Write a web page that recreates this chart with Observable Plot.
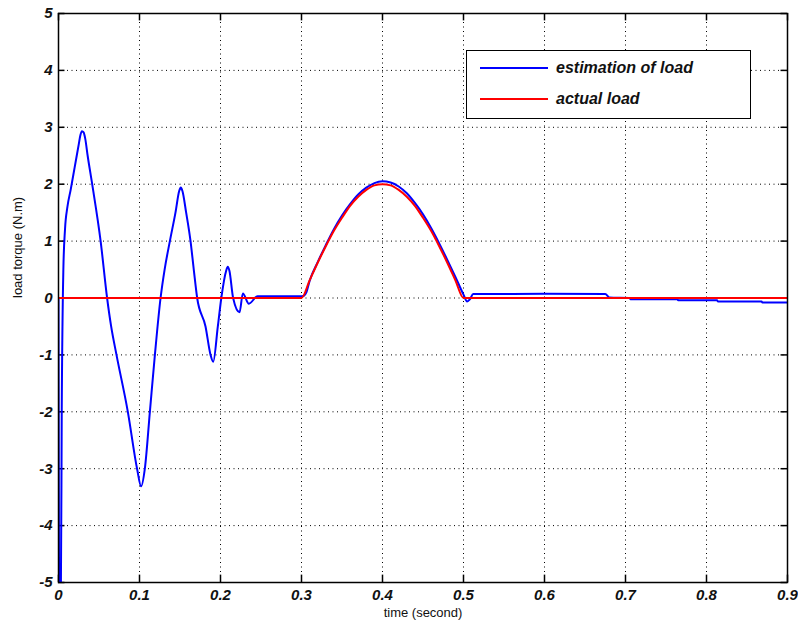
<!DOCTYPE html>
<html>
<head>
<meta charset="utf-8">
<script src="https://cdn.jsdelivr.net/npm/d3@7"></script>
<script src="https://cdn.jsdelivr.net/npm/@observablehq/plot@0.6"></script>
<style>
  html, body { margin: 0; padding: 0; background: #fff; }
  #wrap { position: relative; width: 798px; height: 628px; }
  #legend { position: absolute; left: 466px; top: 50px; width: 283px; height: 67px;
    border: 1.5px solid #000; background: #fff; font-family: "Liberation Sans", Arial, sans-serif;
    font-weight: bold; font-style: italic; font-size: 16px; color: #111; }
  .row { position: absolute; left: 12px; display: flex; align-items: center; }
  .row svg { margin-right: 7px; }
</style>
</head>
<body>
<div id="wrap"></div>
<script>
// ---- data ----
const blueT = [0, 0.0008, 0.003, 0.004, 0.006, 0.008, 0.011, 0.015, 0.02, 0.025, 0.027, 0.029, 0.031, 0.033, 0.036, 0.0416, 0.052, 0.060, 0.065, 0.0716, 0.0856, 0.097, 0.102,
  0.1066, 0.1128, 0.119, 0.126, 0.131, 0.1375, 0.1444, 0.149, 0.151, 0.153, 0.1576, 0.163, 0.167, 0.1712, 0.1815, 0.1877, 0.191,
  0.1967, 0.201, 0.207, 0.209, 0.211, 0.2156, 0.2235, 0.2276, 0.235, 0.2457, 0.26, 0.299,
  0.303, 0.306, 0.31, 0.32, 0.33, 0.34, 0.35, 0.36, 0.37, 0.38, 0.39, 0.40, 0.41, 0.42, 0.43, 0.44, 0.45, 0.46, 0.47, 0.48, 0.49, 0.50,
  0.5045, 0.508, 0.512, 0.52, 0.60, 0.675, 0.68, 0.705, 0.706, 0.764, 0.765, 0.813, 0.814, 0.868, 0.869, 0.9];
const blueV = [0, -5, -5, -2, 0.5, 1.2, 1.6, 1.9, 2.3, 2.7, 2.86, 2.93, 2.91, 2.8, 2.5, 2.0, 1.0, 0, -0.5, -1.0, -2.0, -3.0, -3.31,
  -3.0, -2.0, -1.0, 0, 0.5, 1.0, 1.5, 1.88, 1.94, 1.88, 1.5, 1.0, 0.5, 0, -0.5, -1.0, -1.12,
  -0.5, 0, 0.48, 0.55, 0.48, 0, -0.25, 0.08, -0.1, 0.03, 0.03, 0.03,
  0.04, 0.1, 0.3, 0.63, 0.93, 1.21, 1.45, 1.65, 1.82, 1.94, 2.02, 2.05, 2.03, 1.96, 1.84, 1.67, 1.47, 1.23, 0.96, 0.67, 0.37, 0.06,
  -0.06, -0.02, 0.07, 0.07, 0.075, 0.07, 0.01, 0.0, -0.02, -0.02, -0.04, -0.04, -0.06, -0.06, -0.08, -0.08];

const redT = [0, 0.30, 0.31, 0.32, 0.33, 0.34, 0.35, 0.36, 0.37, 0.38, 0.39, 0.40, 0.41, 0.42, 0.43, 0.44, 0.45, 0.46, 0.47, 0.48, 0.49, 0.50, 0.9];
const redV = [0, 0, 0.31, 0.62, 0.91, 1.18, 1.41, 1.62, 1.78, 1.90, 1.98, 2.0, 1.98, 1.90, 1.78, 1.62, 1.41, 1.18, 0.91, 0.62, 0.31, 0, 0];

const xTicks = [0, 0.1, 0.2, 0.3, 0.4, 0.5, 0.6, 0.7, 0.8, 0.9];
const yTicks = [-5, -4, -3, -2, -1, 0, 1, 2, 3, 4, 5];
const seriesNames = ["estimation of load", "actual load"];
const seriesColors = ["#0000ff", "#ff0000"];
const xLabel = "time (second)";
const yLabel = "load torque (N.m)";

const blue = blueT.map((t, i) => ({t, v: blueV[i]}));
const red = redT.map((t, i) => ({t, v: redV[i]}));

const tickFont = {fontFamily: "Liberation Sans, Arial, sans-serif", fontWeight: "bold", fontStyle: "italic", fontSize: 15};
const fmt = d => String(d);

const chart = Plot.plot({
  width: 798, height: 628,
  marginLeft: 58, marginRight: 11, marginTop: 13, marginBottom: 46,
  style: {background: "#fff", fontFamily: "Liberation Sans, Arial, sans-serif", color: "#111"},
  x: {domain: [0, 0.9]},
  y: {domain: [-5, 5]},
  marks: [
    Plot.gridX(xTicks, {stroke: "#000", strokeOpacity: 1, strokeWidth: 1, strokeDasharray: "1,3.5"}),
    Plot.gridY(yTicks, {stroke: "#000", strokeOpacity: 1, strokeWidth: 1, strokeDasharray: "1,3.5"}),
    Plot.ruleX(xTicks, {x: d => d, y1: -5, y2: -4.87, stroke: "#000", strokeWidth: 1.5}),
    Plot.ruleX(xTicks, {x: d => d, y1: 5, y2: 4.87, stroke: "#000", strokeWidth: 1.5}),
    Plot.ruleY(yTicks, {y: d => d, x1: 0, x2: 0.008, stroke: "#000", strokeWidth: 1.5}),
    Plot.ruleY(yTicks, {y: d => d, x1: 0.9, x2: 0.892, stroke: "#000", strokeWidth: 1.5}),
    Plot.axisX(xTicks, {tickSize: 0, tickPadding: 7, tickFormat: fmt, label: null, ...tickFont}),
    Plot.axisY(yTicks, {tickSize: 0, tickPadding: 6, tickFormat: fmt, label: null, ...tickFont}),
    Plot.line(blue, {x: "t", y: "v", stroke: seriesColors[0], strokeWidth: 2, curve: "monotone-x", clip: true}),
    Plot.line(red, {x: "t", y: "v", stroke: seriesColors[1], strokeWidth: 2, curve: "monotone-x", clip: true}),
    Plot.frame({stroke: "#000", strokeWidth: 1.5}),
    Plot.text([xLabel], {frameAnchor: "bottom", dy: 30, text: d => d, fontSize: 13, lineAnchor: "middle"}),
    Plot.text([yLabel], {frameAnchor: "left", dx: -41, rotate: -90, text: d => d, fontSize: 13, lineAnchor: "middle"})
  ]
});

const wrap = document.getElementById("wrap");
wrap.appendChild(chart);

const legend = document.createElement("div");
legend.id = "legend";
seriesNames.forEach((name, i) => {
  const row = document.createElement("div");
  row.className = "row";
  row.style.top = (i === 0 ? 7 : 38) + "px";
  row.innerHTML = `<svg width="70" height="20"><line x1="1" x2="69" y1="10" y2="10" stroke="${seriesColors[i]}" stroke-width="2"/></svg><span>${name}</span>`;
  legend.appendChild(row);
});
wrap.appendChild(legend);
</script>
</body>
</html>
